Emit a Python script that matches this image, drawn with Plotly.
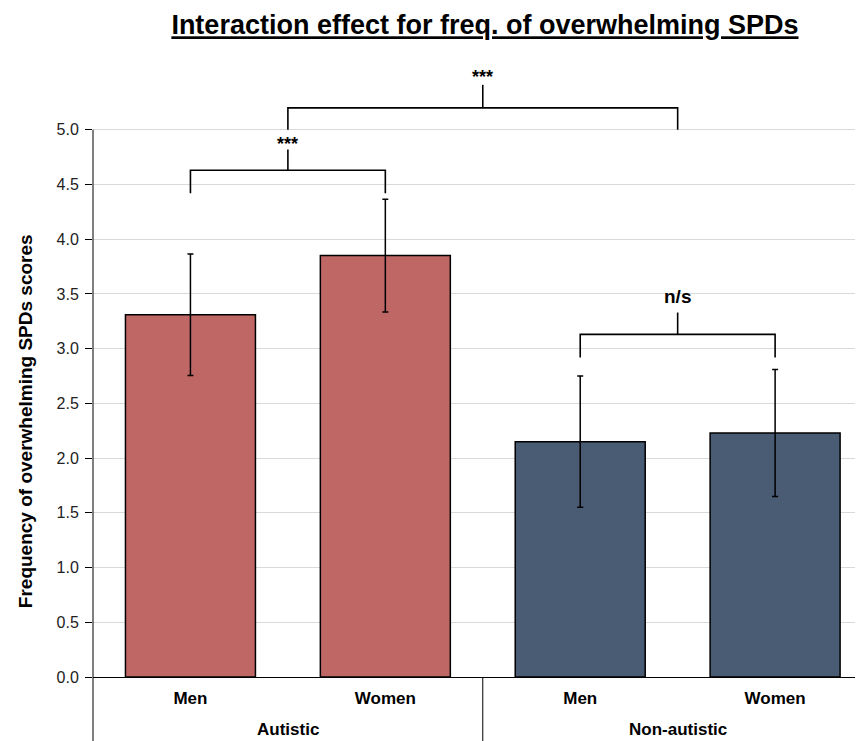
import plotly.graph_objects as go

groups = ["Autistic", "Non-autistic"]
genders = ["Men", "Women"]
means = [3.31, 3.85, 2.15, 2.23]
errors = [0.555, 0.515, 0.60, 0.58]
colors = ["#BE6764", "#BE6764", "#4A5B74", "#4A5B74"]
y_ticks = [0.0, 0.5, 1.0, 1.5, 2.0, 2.5, 3.0, 3.5, 4.0, 4.5, 5.0]

# significance brackets: (left x, right x, bar y, leg bottom, stem top, label y, label, size)
brackets = [
    (0, 1, 4.63, 4.42, 4.82, 4.76, "***", 18),
    (0.5, 2.5, 5.20, 5.00, 5.41, 5.37, "***", 18),
    (2, 3, 3.13, 2.92, 3.33, 3.36, "n/s", 19),
]

YTOP = 5.5
XMAX = 3.451
FONT = "Liberation Sans, Arial, sans-serif"

x = list(range(len(means)))
ticktext = [g for _ in groups for g in genders]

fig = go.Figure()
fig.add_trace(go.Bar(
    x=x, y=means, width=0.667,
    marker=dict(color=colors, line=dict(color="black", width=1.5)),
    error_y=dict(type="data", array=errors, visible=True,
                 color="black", thickness=1.5, width=3),
    showlegend=False,
))

shapes = []
annotations = []
for (xl, xr, yb, yleg, ystem, ylab, lab, fs) in brackets:
    xm = (xl + xr) / 2
    shapes.append(dict(type="path",
                       path=f"M {xl},{yleg} L {xl},{yb} L {xr},{yb} L {xr},{yleg}",
                       xref="x", yref="y", line=dict(color="black", width=1.6)))
    shapes.append(dict(type="line", x0=xm, x1=xm, y0=yb, y1=ystem,
                       xref="x", yref="y", line=dict(color="black", width=1.6)))
    annotations.append(dict(x=xm, y=ylab, xref="x", yref="y", text=f"<b>{lab}</b>",
                            showarrow=False, yanchor="bottom",
                            font=dict(size=fs, color="black", family=FONT)))

# y axis line (from 0 to 5) extended below for category frame
shapes.append(dict(type="line", xref="paper", yref="paper", x0=0, x1=0,
                   y0=-0.12, y1=y_ticks[-1] / YTOP, line=dict(color="black", width=1)))
# group separator
shapes.append(dict(type="line", xref="x", yref="paper", x0=1.5, x1=1.5,
                   y0=-0.12, y1=0, line=dict(color="black", width=1)))

for gi, g in enumerate(groups):
    annotations.append(dict(x=gi * 2 + 0.5, y=-0.088, xref="x", yref="paper",
                            text=f"<b>{g}</b>", showarrow=False, yanchor="middle",
                            font=dict(size=17, color="black", family=FONT)))

# y-axis title
annotations.append(dict(x=-0.0883, y=0.425, xref="paper", yref="paper",
                        text="<b>Frequency of overwhelming SPDs scores</b>",
                        textangle=-90, showarrow=False, xanchor="center", yanchor="middle",
                        font=dict(size=19, color="black", family=FONT)))

fig.update_layout(
    width=855, height=733,
    margin=dict(l=85, r=0, t=67, b=64),
    plot_bgcolor="white", paper_bgcolor="white",
    font=dict(family=FONT, color="black"),
    title=dict(text="<b><u>Interaction effect for freq. of overwhelming SPDs</u></b>",
               x=0.509, xref="paper", xanchor="center", y=0.977, yref="container",
               yanchor="middle", font=dict(size=27, color="black", family=FONT)),
    shapes=shapes,
    annotations=annotations,
    bargap=0.33,
)
fig.update_xaxes(
    range=[-0.5, XMAX], tickmode="array", tickvals=x,
    ticktext=[f"<b>{t}</b>" for t in ticktext],
    showline=True, linecolor="black", linewidth=1, showgrid=False, ticks="",
    ticklabelstandoff=6,
    tickfont=dict(size=17, color="black", family=FONT), zeroline=False,
)
fig.update_yaxes(
    range=[0, YTOP], tickmode="array", tickvals=y_ticks,
    ticktext=[f"{v:.1f}" for v in y_ticks],
    showline=False, showgrid=True, gridcolor="#D9D9D9", gridwidth=1,
    ticks="outside", ticklen=7, tickcolor="black", tickwidth=1,
    ticklabelstandoff=3,
    tickfont=dict(size=16, color="#222222", family=FONT), zeroline=False,
)

fig.write_html("out.html")
